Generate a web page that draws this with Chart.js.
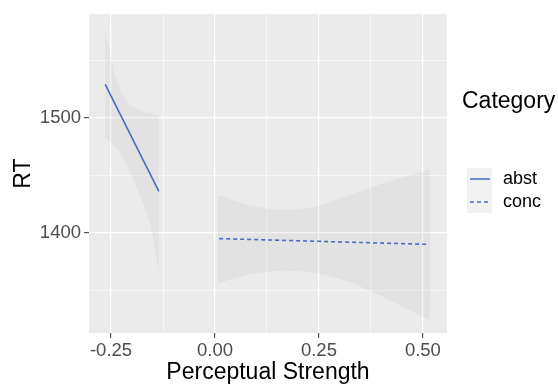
<!DOCTYPE html>
<html>
<head>
<meta charset="utf-8">
<script src="https://cdn.jsdelivr.net/npm/chart.js@4"></script>
<style>
  html, body { margin: 0; padding: 0; background: #fff; }
  canvas { display: block; }
</style>
</head>
<body>
<canvas id="chart" width="558" height="387"></canvas>
<script>
// fitted lines
const abstX = [-0.264, -0.135]
const abstRT = [1529, 1436]
const concX = [0.01, 0.512]
const concRT = [1395, 1390]

// confidence bands
const abstBandX = [-0.264, -0.256, -0.240, -0.216, -0.185, -0.156, -0.135]
const abstUpper = [1576, 1563, 1537, 1516, 1507, 1504, 1502]
const abstLower = [1482, 1480, 1475, 1462, 1436, 1407, 1367]
const concBandX = [0.007, 0.084, 0.164, 0.244, 0.325, 0.405, 0.517]
const concUpper = [1433, 1424, 1420, 1423, 1433, 1443, 1455]
const concLower = [1356, 1364, 1367, 1365, 1357, 1344, 1324]

// axes
const xTicks = [-0.25, -0.125, 0, 0.125, 0.25, 0.375, 0.5]
const xLabels = { '-0.25': '-0.25', '0': '0.00', '0.25': '0.25', '0.5': '0.50' }
const yTicks = [1350, 1400, 1450, 1500, 1550]
const yLabels = { '1400': '1400', '1500': '1500' }

const categories = ['abst', 'conc']
const lineColor = '#4A6BC6'
const bandColor = 'rgba(153, 153, 153, 0.11)'
const font = "'Liberation Sans', Arial, sans-serif"

const pts = (xs, ys) => xs.map((x, i) => ({ x: x, y: ys[i] }))

const panelBg = {
  id: 'panelBg',
  beforeDraw(chart) {
    const { ctx, chartArea: a } = chart
    ctx.save()
    ctx.fillStyle = '#EBEBEB'
    ctx.fillRect(a.left, a.top, a.right - a.left, a.bottom - a.top)
    ctx.restore()
  }
}

const ggLegend = {
  id: 'ggLegend',
  afterDraw(chart) {
    const ctx = chart.ctx
    ctx.save()
    ctx.fillStyle = '#000'
    ctx.textBaseline = 'middle'
    ctx.font = '23px ' + font
    ctx.fillText('Category', 462, 102)
    ctx.fillStyle = '#F2F2F2'
    ctx.fillRect(467, 168, 25, 45)
    categories.forEach((name, i) => {
      const y = 179 + i * 23
      ctx.strokeStyle = lineColor
      ctx.lineWidth = 1.5
      ctx.setLineDash(i === 0 ? [] : [4, 3])
      ctx.beginPath()
      ctx.moveTo(470, y)
      ctx.lineTo(490, y)
      ctx.stroke()
      ctx.fillStyle = '#000'
      ctx.font = '18px ' + font
      ctx.fillText(name, 503, y)
    })
    ctx.restore()
  }
}

const isMajorX = v => xLabels[String(v)] !== undefined
const isMajorY = v => yLabels[String(v)] !== undefined

new Chart(document.getElementById('chart'), {
  type: 'line',
  data: {
    datasets: [
      { label: 'abst', data: pts(abstX, abstRT), borderColor: lineColor, borderWidth: 1.6, pointRadius: 0, fill: false },
      { label: 'conc', data: pts(concX, concRT), borderColor: lineColor, borderWidth: 1.6, borderDash: [4, 3], pointRadius: 0, fill: false },
      { label: 'abst upper', data: pts(abstBandX, abstUpper), borderWidth: 0, pointRadius: 0, backgroundColor: bandColor, fill: 3, cubicInterpolationMode: 'monotone' },
      { label: 'abst lower', data: pts(abstBandX, abstLower), borderWidth: 0, pointRadius: 0, fill: false, cubicInterpolationMode: 'monotone' },
      { label: 'conc upper', data: pts(concBandX, concUpper), borderWidth: 0, pointRadius: 0, backgroundColor: bandColor, fill: 5, cubicInterpolationMode: 'monotone' },
      { label: 'conc lower', data: pts(concBandX, concLower), borderWidth: 0, pointRadius: 0, fill: false, cubicInterpolationMode: 'monotone' }
    ]
  },
  options: {
    responsive: false,
    animation: false,
    devicePixelRatio: 1,
    layout: { padding: { left: 0, right: 111, top: 11, bottom: 0 } },
    plugins: {
      legend: { display: false },
      tooltip: { enabled: false }
    },
    scales: {
      x: {
        type: 'linear',
        min: -0.303,
        max: 0.558,
        afterBuildTicks: scale => { scale.ticks = xTicks.map(v => ({ value: v })) },
        afterFit: scale => { scale.height = 54 },
        border: { display: false },
        grid: {
          color: '#FFFFFF',
          lineWidth: c => isMajorX(c.tick.value) ? 1.3 : 0.6,
          tickColor: c => isMajorX(c.tick.value) ? '#333333' : 'rgba(0,0,0,0)',
          tickLength: 5,
          tickWidth: 1
        },
        ticks: {
          autoSkip: false,
          maxRotation: 0,
          padding: 2,
          color: '#4D4D4D',
          font: { family: font, size: 18.5 },
          callback: v => xLabels[String(v)] || ''
        },
        title: {
          display: true,
          text: 'Perceptual Strength',
          color: '#000',
          font: { family: font, size: 23 },
          padding: { top: 0, bottom: 1 }
        }
      },
      y: {
        min: 1313,
        max: 1590,
        afterBuildTicks: scale => { scale.ticks = yTicks.map(v => ({ value: v })) },
        afterFit: scale => { scale.width = 89 },
        border: { display: false },
        grid: {
          color: '#FFFFFF',
          lineWidth: c => isMajorY(c.tick.value) ? 1.3 : 0.6,
          tickColor: c => isMajorY(c.tick.value) ? '#333333' : 'rgba(0,0,0,0)',
          tickLength: 5,
          tickWidth: 1
        },
        ticks: {
          autoSkip: false,
          padding: 3,
          color: '#4D4D4D',
          font: { family: font, size: 18.5 },
          callback: v => yLabels[String(v)] || ''
        },
        title: {
          display: true,
          text: 'RT',
          color: '#000',
          font: { family: font, size: 23 },
          padding: { top: 10, bottom: 0 }
        }
      }
    }
  },
  plugins: [panelBg, ggLegend]
})
</script>
</body>
</html>
